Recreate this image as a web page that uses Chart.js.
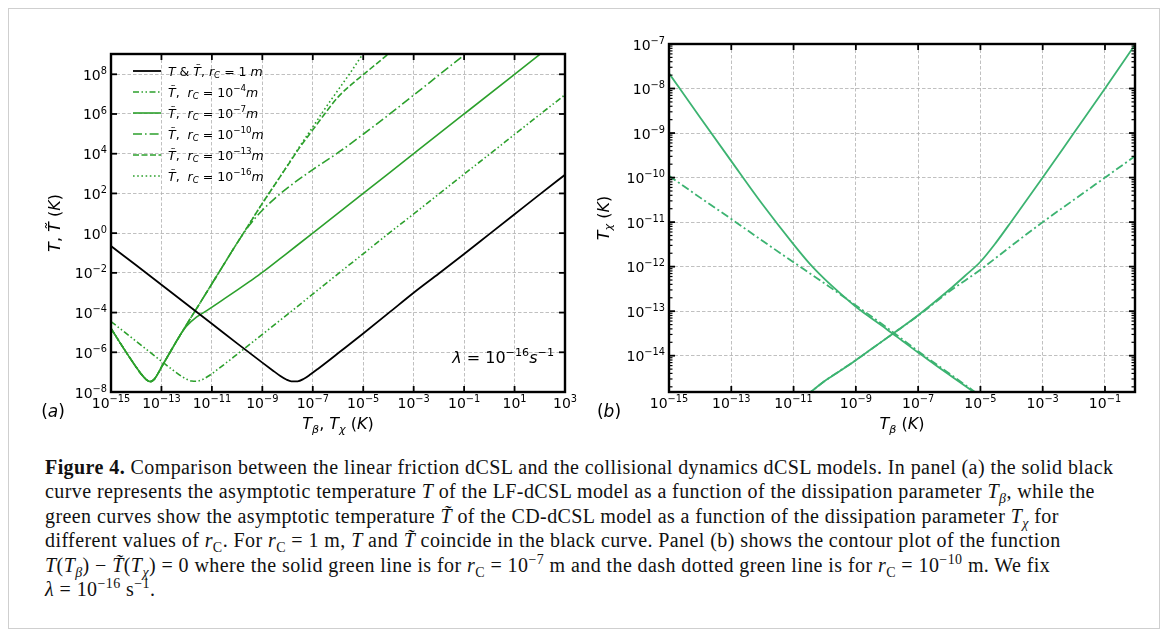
<!DOCTYPE html>
<html>
<head>
<meta charset="utf-8">
<script src="https://cdn.jsdelivr.net/npm/chart.js@4.4.1/dist/chart.umd.min.js"></script>
<style>
html, body { margin: 0; padding: 0; background: #fff; }
body { width: 1167px; height: 636px; position: relative; overflow: hidden; }
#frame { position: absolute; left: 8px; top: 8px; width: 1150px; height: 619px; border: 1px solid #cfcfcf; }
canvas { position: absolute; top: 0; }
#ca { left: 0; }
#cb { left: 585px; }
.cap { position: absolute; left: 45px; top: 455px; font-family: 'Liberation Serif', 'DejaVu Serif', serif; font-size: 20px; letter-spacing: 0.42px; line-height: 24.4px; color: #111; white-space: nowrap; }
.cap sub, .cap sup { font-size: 70%; line-height: 0; }
</style>
</head>
<body>
<div id="frame"></div>
<canvas id="ca" width="585" height="440"></canvas>
<canvas id="cb" width="582" height="440"></canvas>
<div class="cap">
<div><b>Figure 4.</b> Comparison between the linear friction dCSL and the collisional dynamics dCSL models. In panel (a) the solid black</div>
<div>curve represents the asymptotic temperature <i>T</i> of the LF-dCSL model as a function of the dissipation parameter <i>T</i><sub><i>β</i></sub>, while the</div>
<div>green curves show the asymptotic temperature <i>T̃</i> of the CD-dCSL model as a function of the dissipation parameter <i>T</i><sub><i>χ</i></sub> for</div>
<div>different values of <i>r</i><sub>C</sub>. For <i>r</i><sub>C</sub> = 1 m, <i>T</i> and <i>T̃</i> coincide in the black curve. Panel (b) shows the contour plot of the function</div>
<div><i>T</i>(<i>T</i><sub><i>β</i></sub>) − <i>T̃</i>(<i>T</i><sub><i>χ</i></sub>) = 0 where the solid green line is for <i>r</i><sub>C</sub> = 10<sup>−7</sup> m and the dash dotted green line is for <i>r</i><sub>C</sub> = 10<sup>−10</sup> m. We fix</div>
<div><i>λ</i> = 10<sup>−16</sup> s<sup>−1</sup>.</div>
</div>
<script>
// all values below are log10 of the quantity

// panel (a): T or T~ against T_beta / T_chi
const blackLogX = [-15, -14, -13, -12, -11, -10, -9, -8.6, -8.3, -8.05, -7.85, -7.6, -7.35, -7.1, -6.8, -6.4, -6, -5, -4, -3, -2, -1, 0, 1, 2, 3];
const blackLogY = [-0.65, -1.62, -2.6, -3.58, -4.56, -5.55, -6.52, -6.9, -7.18, -7.37, -7.46, -7.46, -7.33, -7.12, -6.84, -6.45, -6.05, -5.05, -4.03, -3.0, -2.03, -1.05, -0.05, 0.95, 1.95, 2.94];

const r4LogX = [-15, -14, -13, -12.5, -12.2, -12, -11.8, -11.6, -11.4, -11.1, -10.8, -10.4, -10, -9, -8, -7, -6, -5, -4, -3, -1, 1, 3];
const r4LogY = [-4.45, -5.45, -6.45, -6.94, -7.21, -7.36, -7.45, -7.46, -7.39, -7.17, -6.89, -6.5, -6.1, -5.1, -4.09, -3.07, -2.05, -1.04, -0.03, 0.97, 2.97, 4.97, 6.97];

const r7LogX = [-15, -14.5, -14, -13.8, -13.6, -13.45, -13.3, -13.15, -13, -12.75, -12.5, -12.25, -12, -11.6, -11.3, -10.5, -10, -9.5, -9, -8, -7, -5, -3, -1, 1, 2.1];
const r7LogY = [-4.8, -5.8, -6.75, -7.1, -7.38, -7.48, -7.38, -7.1, -6.75, -6.2, -5.65, -5.12, -4.68, -4.22, -3.98, -3.3, -2.87, -2.43, -1.98, -0.99, 0, 2, 4, 6, 8, 9.1];

const r10LogX = [-15, -14.5, -14, -13.8, -13.6, -13.45, -13.3, -13.15, -13, -12.75, -12.5, -12.25, -12, -11.5, -11, -10.5, -10, -9.5, -9, -8.5, -8, -7, -6, -5, -4, -3, -2, -1, -0.9];
const r10LogY = [-4.8, -5.8, -6.75, -7.1, -7.38, -7.48, -7.38, -7.1, -6.75, -6.2, -5.65, -5.12, -4.6, -3.58, -2.55, -1.52, -0.5, 0.42, 1.15, 1.75, 2.28, 3.2, 4.05, 4.98, 5.95, 6.95, 7.96, 8.97, 9.07];

const r13LogX = [-15, -14.5, -14, -13.8, -13.6, -13.45, -13.3, -13.15, -13, -12.75, -12.5, -12.25, -12, -11.5, -11, -10.5, -10, -9.5, -9, -8.5, -8, -7.5, -7, -6.5, -6, -5.5, -5, -4.5, -4];
const r13LogY = [-4.8, -5.8, -6.75, -7.1, -7.38, -7.48, -7.38, -7.1, -6.75, -6.2, -5.65, -5.12, -4.6, -3.58, -2.55, -1.52, -0.5, 0.5, 1.5, 2.45, 3.4, 4.35, 5.2, 6.05, 6.85, 7.45, 7.98, 8.5, 9.03];

const r16LogX = [-15, -14.5, -14, -13.8, -13.6, -13.45, -13.3, -13.15, -13, -12.75, -12.5, -12.25, -12, -11.5, -11, -10.5, -10, -9.5, -9, -8.5, -8, -7.5, -7, -6.5, -6, -5.5, -5];
const r16LogY = [-4.8, -5.8, -6.75, -7.1, -7.38, -7.48, -7.38, -7.1, -6.75, -6.2, -5.65, -5.12, -4.6, -3.58, -2.55, -1.52, -0.5, 0.5, 1.5, 2.45, 3.42, 4.4, 5.35, 6.3, 7.2, 8.1, 9.05];

// panel (b): contour T(T_beta) = T~(T_chi), two branches each
const solidDownLogX = [-15, -14, -13, -12, -11, -10.5, -10, -9.5, -9, -8.5, -8, -7.5, -7, -6.5, -6, -5.27, -5];
const solidDownLogY = [-7.66, -8.65, -9.63, -10.6, -11.5, -11.92, -12.28, -12.6, -12.9, -13.16, -13.41, -13.67, -13.93, -14.18, -14.43, -14.79, -14.93];
const solidUpLogX = [-10.6, -10, -9.5, -9, -8.5, -8, -7.5, -7, -6.5, -6, -5.5, -5, -4.5, -4, -3, -2, -1, 0];
const solidUpLogY = [-14.9, -14.57, -14.34, -14.1, -13.85, -13.6, -13.35, -13.09, -12.81, -12.52, -12.21, -11.89, -11.46, -10.98, -10.0, -9.0, -8.0, -6.98];
const dashDownLogX = [-15, -14, -13, -12, -11, -10, -9, -8, -7, -6, -5];
const dashDownLogY = [-9.96, -10.45, -10.93, -11.42, -11.9, -12.38, -12.87, -13.37, -13.9, -14.4, -14.9];
const dashUpLogX = [-10.6, -10, -9, -8, -7, -6, -5, -4, -3, -2, -1, 0];
const dashUpLogY = [-14.9, -14.57, -14.1, -13.6, -13.1, -12.56, -12.07, -11.53, -11.0, -10.5, -10.0, -9.5];

// tick positions
const aXTicks = [1e-15, 1e-13, 1e-11, 1e-9, 1e-7, 1e-5, 1e-3, 1e-1, 1e1, 1e3];
const aYTicks = [1e-8, 1e-6, 1e-4, 1e-2, 1e0, 1e2, 1e4, 1e6, 1e8];
const bXTicks = [1e-15, 1e-13, 1e-11, 1e-9, 1e-7, 1e-5, 1e-3, 1e-1];
const bYTicks = [1e-14, 1e-13, 1e-12, 1e-11, 1e-10, 1e-9, 1e-8, 1e-7];

const FONT = "'DejaVu Sans', sans-serif";
Chart.defaults.font.family = FONT;

const green = '#2ca02c';
const seaGreen = '#3cb371';

function expText(v) {
    const e = Math.round(Math.log10(v));
    return (e < 0 ? '−' : '') + Math.abs(e);
}
function tickRuns(v) {
    return [['10', ''], [expText(v), 'p']];
}

function series(label, xs, ys, color, dash, width) {
    return {
        label: label,
        data: xs.map((e, i) => ({ x: 10 ** e, y: 10 ** ys[i] })),
        borderColor: color,
        borderDash: dash,
        borderWidth: width,
        pointRadius: 0,
        fill: false,
        cubicInterpolationMode: 'monotone',
        clip: 0
    };
}

// runs of [text, style]: i = italic, b = subscript, p = superscript
function runFont(st, size) {
    const small = st.includes('b') || st.includes('p');
    return (st.includes('i') ? 'italic ' : '') + (small ? size * 0.7 : size) + 'px ' + FONT;
}
function richText(ctx, runs, x, y, size, align) {
    let w = 0;
    const widths = runs.map(([t, st]) => {
        ctx.font = runFont(st, size);
        const m = ctx.measureText(t).width;
        w += m;
        return m;
    });
    let cx = align === 'center' ? x - w / 2 : align === 'right' ? x - w : x;
    ctx.textAlign = 'left';
    ctx.textBaseline = 'alphabetic';
    ctx.fillStyle = '#000';
    runs.forEach(([t, st], k) => {
        ctx.font = runFont(st, size);
        const dy = st.includes('b') ? size * 0.22 : st.includes('p') ? -size * 0.42 : 0;
        ctx.fillText(t, cx, y + dy);
        cx += widths[k];
    });
}
function rotText(ctx, runs, cx, cy, size) {
    ctx.save();
    ctx.translate(cx, cy);
    ctx.rotate(-Math.PI / 2);
    richText(ctx, runs, 0, size * 0.35, size, 'center');
    ctx.restore();
}

function seg(ctx, x1, y1, x2, y2) {
    ctx.beginPath();
    ctx.moveTo(x1, y1);
    ctx.lineTo(x2, y2);
    ctx.stroke();
}

// inward ticks on all four sides, tick labels and the black frame
function drawFrame(chart, xt, yt, yMinor) {
    const { ctx, chartArea: a } = chart;
    const sx = chart.scales.x, sy = chart.scales.y;
    ctx.save();
    ctx.strokeStyle = '#000';
    ctx.setLineDash([]);
    ctx.lineWidth = 1.8;
    xt.forEach(v => {
        const p = sx.getPixelForValue(v);
        seg(ctx, p, a.bottom, p, a.bottom - 6);
        seg(ctx, p, a.top, p, a.top + 6);
        richText(ctx, tickRuns(v), p, a.bottom + 15.5, 14, 'center');
    });
    yt.forEach(v => {
        const p = sy.getPixelForValue(v);
        seg(ctx, a.left, p, a.left + 6, p);
        seg(ctx, a.right, p, a.right - 6, p);
        richText(ctx, tickRuns(v), a.left - 4, p + 5.5, 14, 'right');
    });
    ctx.lineWidth = 1.2;
    yMinor.forEach(v => {
        const p = sy.getPixelForValue(v);
        if (p < a.top || p > a.bottom) return;
        seg(ctx, a.left, p, a.left + 3.5, p);
        seg(ctx, a.right, p, a.right - 3.5, p);
    });
    ctx.lineWidth = 2.4;
    ctx.strokeRect(a.left, a.top, a.right - a.left, a.bottom - a.top);
    ctx.restore();
}

function logAxis(min, max, ticks, fit) {
    return {
        type: 'logarithmic',
        min: min,
        max: max,
        afterBuildTicks: s => { s.ticks = ticks.map(v => ({ value: v })); },
        afterFit: fit,
        // labels are drawn with real superscripts by the panel plugins
        ticks: { display: false, autoSkip: false },
        grid: { color: '#b0b0b0', lineWidth: 0.8, drawTicks: false },
        border: { display: false, dash: [3.5, 2] }
    };
}

const legendTexts = [
    [['T', 'i'], [' & ', ''], ['T̃', 'i'], [', ', ''], ['r', 'i'], ['C', 'bi'], [' = 1 ', ''], ['m', 'i']],
    [['T̃', 'i'], [',  ', ''], ['r', 'i'], ['C', 'bi'], [' = 10', ''], ['−4', 'p'], ['m', 'i']],
    [['T̃', 'i'], [',  ', ''], ['r', 'i'], ['C', 'bi'], [' = 10', ''], ['−7', 'p'], ['m', 'i']],
    [['T̃', 'i'], [',  ', ''], ['r', 'i'], ['C', 'bi'], [' = 10', ''], ['−10', 'p'], ['m', 'i']],
    [['T̃', 'i'], [',  ', ''], ['r', 'i'], ['C', 'bi'], [' = 10', ''], ['−13', 'p'], ['m', 'i']],
    [['T̃', 'i'], [',  ', ''], ['r', 'i'], ['C', 'bi'], [' = 10', ''], ['−16', 'p'], ['m', 'i']]
];

const panelA = {
    id: 'panelA',
    afterDatasetsDraw(chart) {
        const ctx = chart.ctx;
        drawFrame(chart, aXTicks, aYTicks, []);

        // legend without box, top left inside the axes
        chart.data.datasets.forEach((d, i) => {
            const y = 71 + i * 21;
            ctx.save();
            ctx.strokeStyle = d.borderColor;
            ctx.lineWidth = d.borderWidth;
            ctx.setLineDash(d.borderDash);
            seg(ctx, 133, y, 161, y);
            ctx.restore();
            richText(ctx, legendTexts[i], 168, y + 4.5, 12.5, 'left');
        });

        richText(ctx, [['λ', 'i'], [' = 10', ''], ['−16', 'p'], ['s', 'i'], ['−1', 'p']], 554, 363, 16, 'right');
        richText(ctx, [['T', 'i'], ['β', 'bi'], [', ', ''], ['T', 'i'], ['χ', 'bi'], [' (', ''], ['K', 'i'], [')', '']], 338, 429, 16, 'center');
        rotText(ctx, [['T', 'i'], [', ', ''], ['T̃', 'i'], [' (', ''], ['K', 'i'], [')', '']], 54, 223, 16);
        richText(ctx, [['(', ''], ['a', 'i'], [')', '']], 53, 417, 17, 'center');
    }
};

const panelB = {
    id: 'panelB',
    afterDatasetsDraw(chart) {
        const ctx = chart.ctx;
        const minor = [];
        for (let d = -15; d <= -8; d++) {
            for (let k = 2; k <= 9; k++) minor.push(k * 10 ** d);
        }
        drawFrame(chart, bXTicks, bYTicks, minor);
        richText(ctx, [['T', 'i'], ['β', 'bi'], [' (', ''], ['K', 'i'], [')', '']], 317, 429, 16, 'center');
        rotText(ctx, [['T', 'i'], ['χ', 'bi'], [' (', ''], ['K', 'i'], [')', '']], 18, 218, 16);
        richText(ctx, [['(', ''], ['b', 'i'], [')', '']], 24, 417, 17, 'center');
    }
};

new Chart(document.getElementById('ca'), {
    type: 'line',
    data: {
        datasets: [
            series('T & T~, rC = 1 m', blackLogX, blackLogY, '#000', [], 1.8),
            series('T~, rC = 1e-4 m', r4LogX, r4LogY, green, [6, 2.5, 1.5, 2.5, 1.5, 2.5], 1.6),
            series('T~, rC = 1e-7 m', r7LogX, r7LogY, green, [], 1.6),
            series('T~, rC = 1e-10 m', r10LogX, r10LogY, green, [9, 3, 1.6, 3], 1.6),
            series('T~, rC = 1e-13 m', r13LogX, r13LogY, green, [6, 2.5], 1.6),
            series('T~, rC = 1e-16 m', r16LogX, r16LogY, green, [1.6, 2.6], 1.6)
        ]
    },
    options: {
        responsive: false,
        animation: false,
        devicePixelRatio: 1,
        layout: { padding: { left: 0, top: 54, right: 20, bottom: 0 } },
        plugins: { legend: { display: false }, tooltip: { enabled: false } },
        scales: {
            x: logAxis(1e-15, 1e3, aXTicks, s => { s.height = 48; }),
            y: logAxis(1e-8, 1.05e9, aYTicks, s => { s.width = 111; })
        }
    },
    plugins: [panelA]
});

new Chart(document.getElementById('cb'), {
    type: 'line',
    data: {
        datasets: [
            series('rC = 1e-7 m', solidDownLogX, solidDownLogY, seaGreen, [], 1.8),
            series('rC = 1e-7 m ', solidUpLogX, solidUpLogY, seaGreen, [], 1.8),
            series('rC = 1e-10 m', dashDownLogX, dashDownLogY, seaGreen, [8, 3, 2, 3], 1.8),
            series('rC = 1e-10 m ', dashUpLogX, dashUpLogY, seaGreen, [8, 3, 2, 3], 1.8)
        ]
    },
    options: {
        responsive: false,
        animation: false,
        devicePixelRatio: 1,
        layout: { padding: { left: 0, top: 44, right: 32, bottom: 0 } },
        plugins: { legend: { display: false }, tooltip: { enabled: false } },
        scales: {
            x: logAxis(1e-15, 0.92, bXTicks, s => { s.height = 48; }),
            y: logAxis(1.53e-15, 1e-7, bYTicks, s => { s.width = 84; })
        }
    },
    plugins: [panelB]
});
</script>
</body>
</html>
